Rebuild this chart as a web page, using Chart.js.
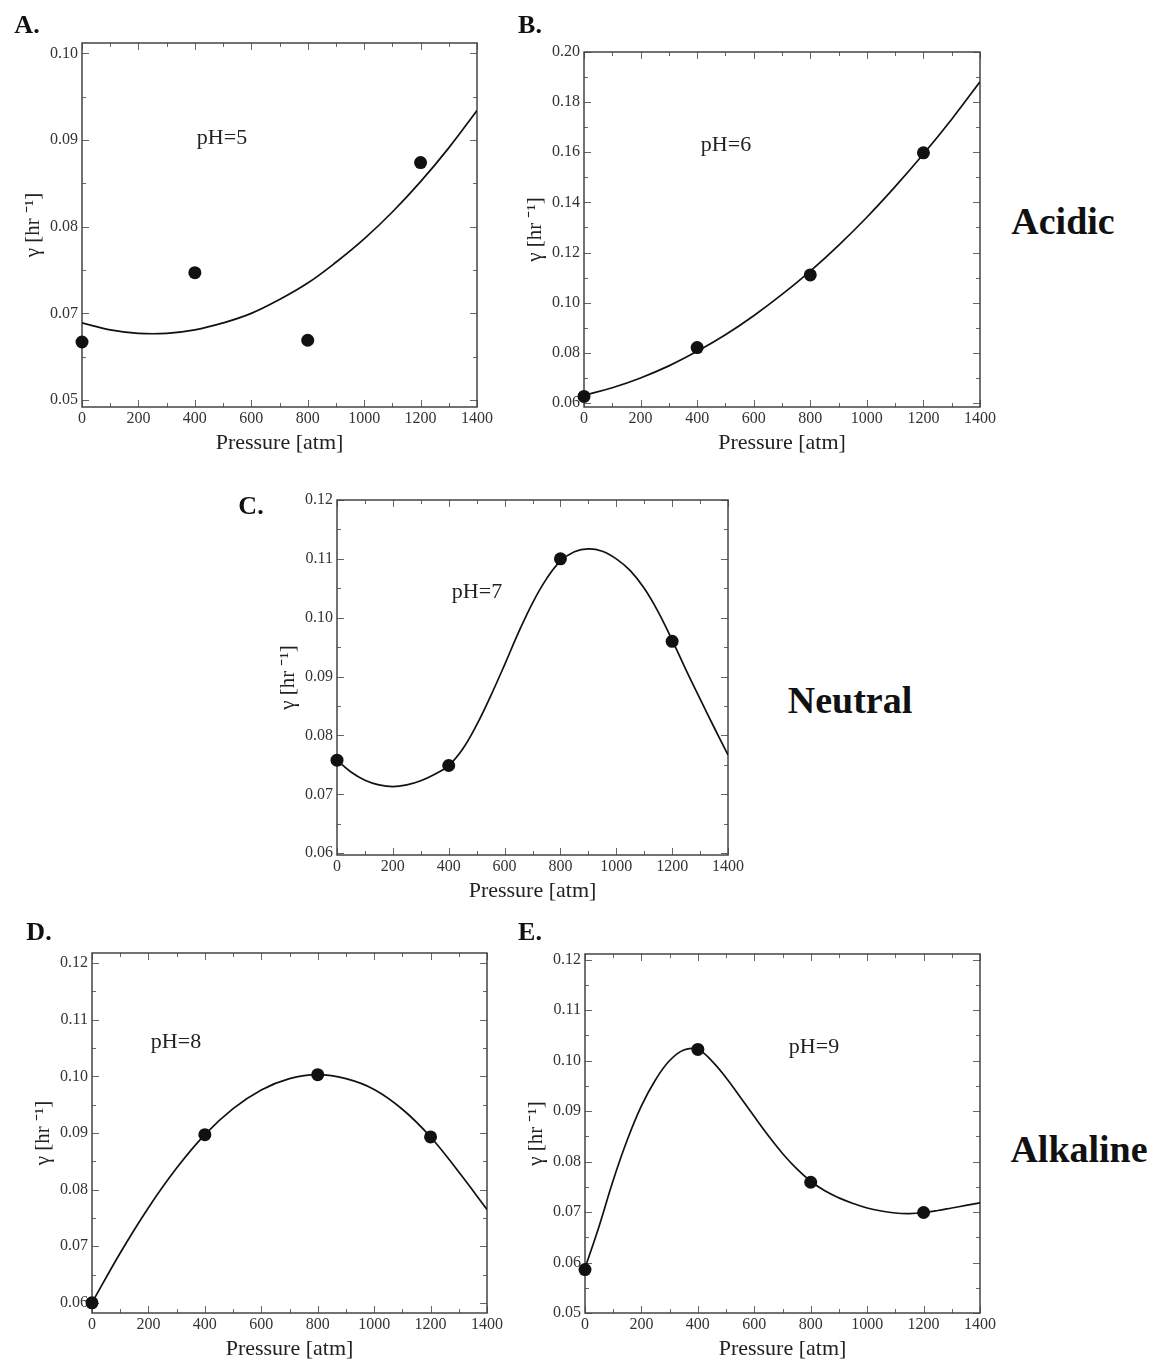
<!DOCTYPE html>
<html><head><meta charset="utf-8">
<script src="https://cdn.jsdelivr.net/npm/chart.js@4.4.1/dist/chart.umd.min.js"></script>
<style>
html,body{margin:0;padding:0;background:#fff;}
body{width:1157px;height:1365px;position:relative;overflow:hidden;font-family:'Liberation Serif','Times New Roman',serif;}
canvas.box{position:absolute;}
.lbl{position:absolute;transform:translate(-50%,-50%);white-space:nowrap;line-height:1;color:#111;}
.ph{font-size:22px;color:#222;}
.let{font-size:26px;font-weight:bold;}
.side{font-size:38px;font-weight:bold;}
</style></head><body>
<canvas id="cA" class="box"></canvas>
<canvas id="cB" class="box"></canvas>
<canvas id="cC" class="box"></canvas>
<canvas id="cD" class="box"></canvas>
<canvas id="cE" class="box"></canvas>

<div class="lbl let" style="left:27px;top:25px">A.</div>
<div class="lbl let" style="left:530px;top:25px">B.</div>
<div class="lbl let" style="left:251px;top:506px">C.</div>
<div class="lbl let" style="left:39px;top:932px">D.</div>
<div class="lbl let" style="left:530px;top:932px">E.</div>

<div class="lbl ph" style="left:222px;top:137px">pH=5</div>
<div class="lbl ph" style="left:726px;top:144px">pH=6</div>
<div class="lbl ph" style="left:477px;top:591px">pH=7</div>
<div class="lbl ph" style="left:176px;top:1041px">pH=8</div>
<div class="lbl ph" style="left:814px;top:1046px">pH=9</div>

<div class="lbl side" style="left:1063px;top:221px">Acidic</div>
<div class="lbl side" style="left:850px;top:700px">Neutral</div>
<div class="lbl side" style="left:1079px;top:1149px">Alkaline</div>

<script>
// ---------------- data ----------------
const pressure = [0, 400, 800, 1200];
const gammaA = [0.0667, 0.0747, 0.0669, 0.0874];
const gammaB = [0.0626, 0.0821, 0.1111, 0.1598];
const gammaC = [0.0758, 0.0749, 0.1100, 0.0960];
const gammaD = [0.0600, 0.0897, 0.1003, 0.0893];
const gammaE = [0.0586, 0.1022, 0.0759, 0.0699];

const curveX100 = [0,100,200,300,400,500,600,700,800,900,1000,1100,1200,1300,1400];
const curveX50 = [0,50,100,150,200,250,300,350,400,450,500,550,600,650,700,750,800,850,900,950,1000,1050,1100,1150,1200,1250,1300,1350,1400];

const curveA = [0.0689,0.0681,0.0677,0.0677,0.0681,0.0689,0.0700,0.0716,0.0735,0.0759,0.0786,0.0817,0.0852,0.0891,0.0934];
const curveB = [0.0631,0.0661,0.0700,0.0748,0.0806,0.0872,0.0948,0.1033,0.1126,0.1229,0.1341,0.1463,0.1593,0.1732,0.1881];
const curveC = [0.0758,0.0738,0.0724,0.0716,0.0713,0.0716,0.0723,0.0734,0.0749,0.0777,0.0818,0.0867,0.0920,0.0975,0.1025,0.1066,0.1096,0.1112,0.1117,0.1113,0.1100,0.1080,0.1050,0.1010,0.0962,0.0911,0.0862,0.0814,0.0767];
const curveD = [0.0600,0.0688,0.0768,0.0838,0.0897,0.0943,0.0976,0.0996,0.1003,0.0996,0.0977,0.0942,0.0893,0.0831,0.0765];
const curveE = [0.0589,0.0672,0.0763,0.0843,0.0910,0.0962,0.1000,0.1021,0.1022,0.0999,0.0966,0.0928,0.0889,0.0851,0.0816,0.0786,0.0761,0.0742,0.0728,0.0717,0.0708,0.0702,0.0698,0.0697,0.0699,0.0703,0.0708,0.0713,0.0718];

const xTicks = [0,200,400,600,800,1000,1200,1400];
const xTickLabels = ['0','200','400','600','800','1000','1200','1400'];

const yTicksA = [0.06,0.07,0.08,0.09,0.10];
const yLabelsA = ['0.05','0.07','0.08','0.09','0.10'];
const yTicksB = [0.06,0.08,0.10,0.12,0.14,0.16,0.18,0.20];
const yLabelsB = ['0.06','0.08','0.10','0.12','0.14','0.16','0.18','0.20'];
const yTicksCD = [0.06,0.07,0.08,0.09,0.10,0.11,0.12];
const yLabelsCD = ['0.06','0.07','0.08','0.09','0.10','0.11','0.12'];
const yTicksE = [0.05,0.06,0.07,0.08,0.09,0.10,0.11,0.12];
const yLabelsE = ['0.05','0.06','0.07','0.08','0.09','0.10','0.11','0.12'];

// ---------------- layout / style ----------------
const FONT = "'Liberation Serif','Times New Roman',serif";
const PAD_L = 80, PAD_T = 20, PAD_R = 30, PAD_B = 60;

const panels = [
  {id:'cA', rect:[82,43,477,407], yMin:0.0592, yMax:0.1012, yT:yTicksA, yL:yLabelsA, minor:0.005, pts:gammaA, cx:curveX100, cy:curveA},
  {id:'cB', rect:[584,52,980,407], yMin:0.0584, yMax:0.2000, yT:yTicksB, yL:yLabelsB, minor:0.01, pts:gammaB, cx:curveX100, cy:curveB},
  {id:'cC', rect:[337,500,728,855], yMin:0.0597, yMax:0.1200, yT:yTicksCD, yL:yLabelsCD, minor:0.005, pts:gammaC, cx:curveX50, cy:curveC},
  {id:'cD', rect:[92,953,487,1313], yMin:0.0582, yMax:0.1218, yT:yTicksCD, yL:yLabelsCD, minor:0.005, pts:gammaD, cx:curveX100, cy:curveD},
  {id:'cE', rect:[585,954,980,1313], yMin:0.0500, yMax:0.1211, yT:yTicksE, yL:yLabelsE, minor:0.005, pts:gammaE, cx:curveX50, cy:curveE}
];

const framePlugin = {
  id: 'frame',
  beforeDatasetsDraw(chart, args, opts) {
    const {ctx, chartArea: a, scales: {x, y}} = chart;
    ctx.save();
    ctx.strokeStyle = '#666';
    ctx.lineWidth = 1;
    const seg = (x1, y1, x2, y2) => { ctx.beginPath(); ctx.moveTo(x1, y1); ctx.lineTo(x2, y2); ctx.stroke(); };
    for (let v = 0; v <= 1400; v += 100) {
      const px = Math.round(x.getPixelForValue(v)) + 0.5;
      const len = (v % 200 === 0) ? 7 : 4;
      seg(px, a.bottom, px, a.bottom - len);
      seg(px, a.top, px, a.top + len);
    }
    const step = opts.minor;
    for (let k = Math.ceil(y.min / step - 1e-6); k * step <= y.max + 1e-9; k++) {
      const v = k * step;
      const major = opts.major.some(m => Math.abs(m - v) < 1e-9);
      const py = Math.round(y.getPixelForValue(v)) + 0.5;
      const len = major ? 7 : 4;
      seg(a.left, py, a.left + len, py);
      seg(a.right, py, a.right - len, py);
    }
    ctx.strokeStyle = '#444';
    ctx.lineWidth = 1.5;
    ctx.strokeRect(a.left, a.top, a.right - a.left, a.bottom - a.top);
    ctx.restore();
  }
};

panels.forEach(p => {
  const [L, T, R, B] = p.rect;
  const cv = document.getElementById(p.id);
  const w = R - L + PAD_L + PAD_R, h = B - T + PAD_T + PAD_B;
  cv.width = w; cv.height = h;
  cv.style.left = (L - PAD_L) + 'px';
  cv.style.top = (T - PAD_T) + 'px';
  cv.style.width = w + 'px';
  cv.style.height = h + 'px';

  new Chart(cv, {
    type: 'scatter',
    data: {
      datasets: [
        {
          data: p.cx.map((xv, i) => ({x: xv, y: p.cy[i]})),
          showLine: true, pointRadius: 0, borderColor: '#111', borderWidth: 1.7,
          tension: 0.4, fill: false
        },
        {
          data: pressure.map((xv, i) => ({x: xv, y: p.pts[i]})),
          showLine: false, pointRadius: 6.5, backgroundColor: '#111', borderColor: '#111',
          borderWidth: 0, clip: false
        }
      ]
    },
    options: {
      responsive: false,
      animation: false,
      devicePixelRatio: 1,
      layout: {padding: {left: 0, top: PAD_T, right: PAD_R, bottom: 0}},
      plugins: {legend: {display: false}, tooltip: {enabled: false}, frame: {minor: p.minor, major: p.yT}},
      scales: {
        x: {
          type: 'linear', min: 0, max: 1400,
          afterBuildTicks: s => { s.ticks = xTicks.map(v => ({value: v})); },
          afterFit: s => { s.height = PAD_B; },
          ticks: {callback: (v, i) => xTickLabels[i], font: {family: FONT, size: 16}, color: '#333', padding: 2, maxRotation: 0, autoSkip: false},
          grid: {display: false, drawTicks: false},
          border: {display: false},
          title: {display: true, text: 'Pressure [atm]', font: {family: FONT, size: 22}, color: '#222', padding: {top: 0, bottom: 11}}
        },
        y: {
          type: 'linear', min: p.yMin, max: p.yMax,
          afterBuildTicks: s => { s.ticks = p.yT.map(v => ({value: v})); },
          afterFit: s => { s.width = PAD_L; },
          ticks: {callback: (v, i) => p.yL[i], font: {family: FONT, size: 16}, color: '#333', padding: 4, autoSkip: false},
          grid: {display: false, drawTicks: false},
          border: {display: false},
          title: {display: true, text: 'γ [hr ⁻¹]', font: {family: FONT, size: 21}, color: '#222', padding: {top: 19, bottom: 0}}
        }
      }
    },
    plugins: [framePlugin]
  });
});
</script>
</body></html>
